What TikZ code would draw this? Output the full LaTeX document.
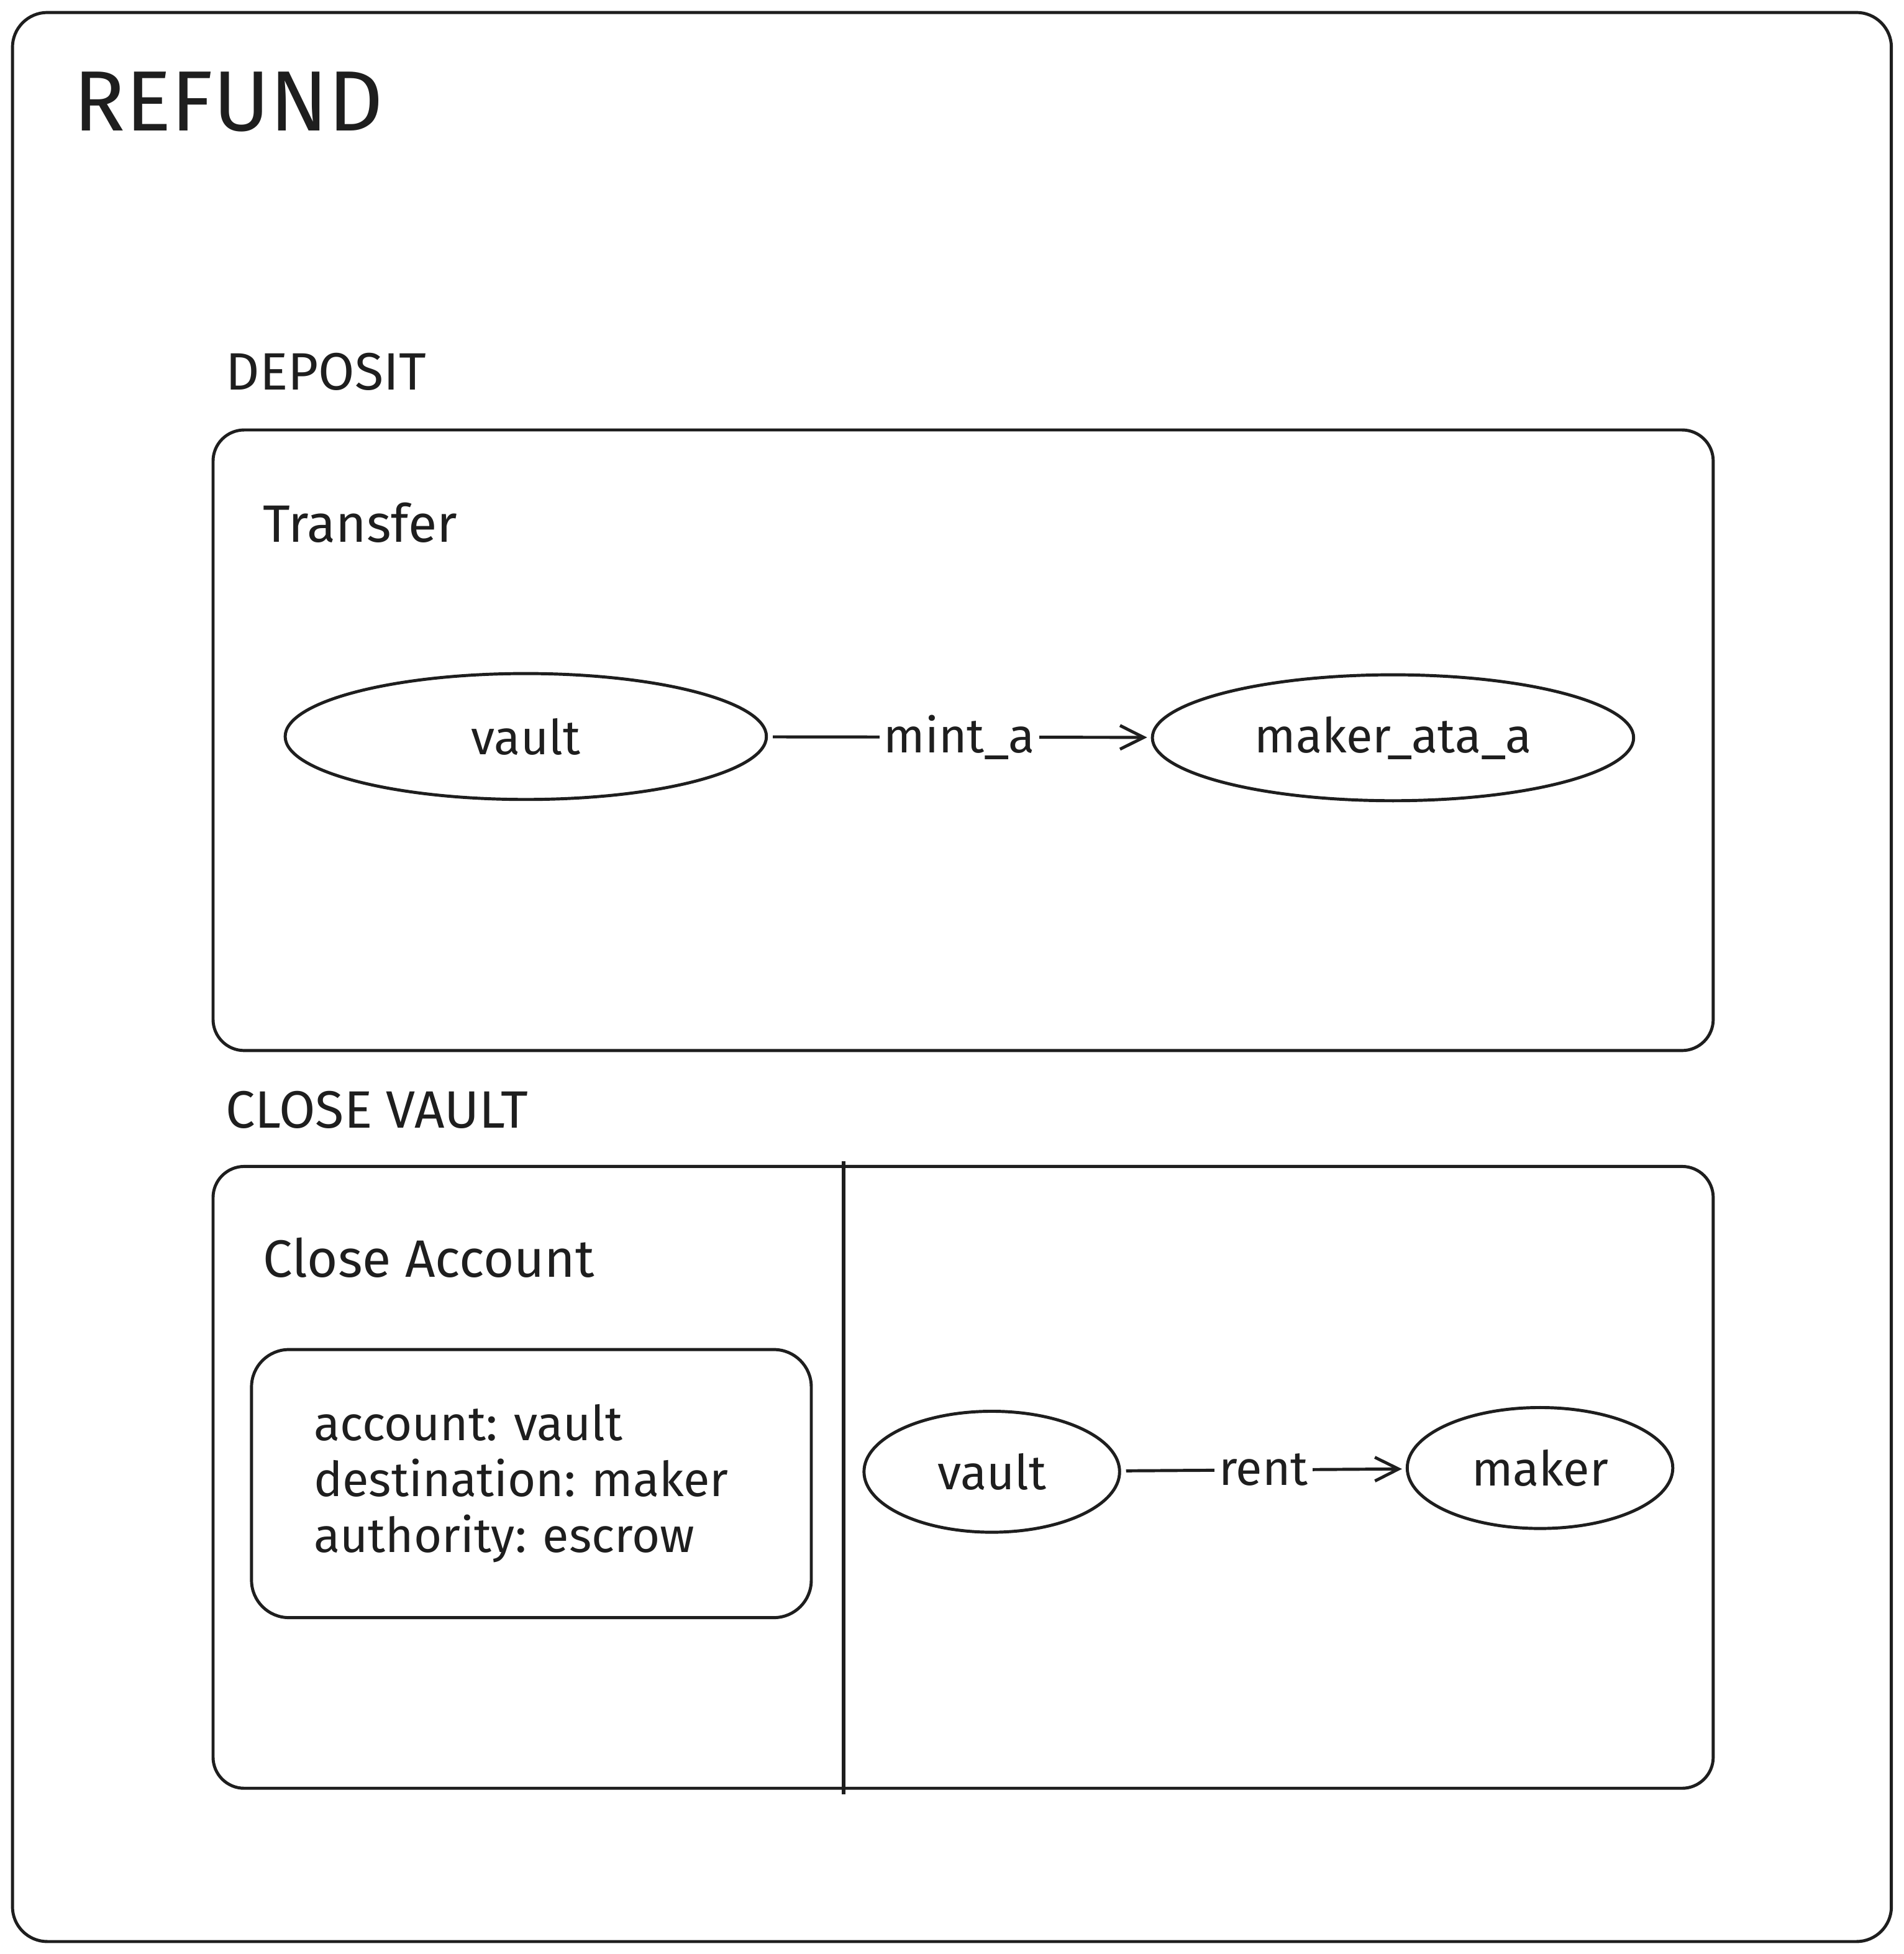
\documentclass[tikz,border=0pt]{standalone}
\usepackage{fontspec}
\setmainfont{Fira Sans}
\usepackage{tikz}
\usetikzlibrary{arrows.meta, positioning, shapes}
\definecolor{ink}{HTML}{1E1E1E}
\frenchspacing

\begin{document}
\begin{tikzpicture}[x=0.01cm, y=-0.01cm, line width=0.7pt,
	panel/.style={draw=ink, rounded corners=0.25cm},
	acct/.style={draw=ink, ellipse, inner sep=0pt, text=ink, font=\fontsize{11}{13}\selectfont},
	flow/.style={draw=ink, shorten <=0.04cm, shorten >=0.03cm, -{Straight Barb[length=0.19cm, width=0.19cm]}},
	flowlabel/.style={fill=white, inner xsep=1pt, inner ysep=0pt, text=ink, font=\fontsize{11}{13}\selectfont},
	heading/.style={anchor=base west, inner sep=0pt, text=ink, font=\fontsize{12}{15}\selectfont},
]

\useasboundingbox (0,0) rectangle (1528,1568);

\draw[panel, rounded corners=0.28cm] (10,10) rectangle (1518,1558); % outer frame
\node[heading, font=\fontsize{19.5}{23}\selectfont] (refund) at (58,105) {REFUND};

% deposit
\node[heading] (deposit) at (180,313) {DEPOSIT};
\draw[panel] (171,345) rectangle (1375,843);
\node[heading] (transfer) at (210,435) {Transfer};

\node[acct, minimum width=3.86cm, minimum height=1.01cm] (vaulta) at (422,591) {vault};
\node[acct, minimum width=3.86cm, minimum height=1.01cm] (makerata) at (1118,592) {maker\_ata\_a};
\draw[flow] (vaulta) -- node[flowlabel] {mint\_a} (makerata);

% close vault
\node[heading] (closevault) at (180,905) {CLOSE VAULT};
\draw[panel] (171,936) rectangle (1375,1435);
\draw[ink, line width=0.9pt] (677,932) -- (677,1440); % divider
\node[heading] (closeacct) at (210,1025) {Close Account};

\node[panel, rounded corners=0.3cm, align=left, text width=3.49cm, inner xsep=0.5cm, minimum height=2.15cm,
	text=ink, font=\fontsize{11}{12.8}\selectfont] (params) at (426.5,1190.5)
	{account: vault\\destination: maker\\authority: escrow};

\node[acct, minimum width=2.05cm, minimum height=0.97cm] (vaultb) at (796,1181) {vault};
\node[acct, minimum width=2.13cm, minimum height=0.97cm] (maker) at (1236,1178) {maker};
\draw[flow] (vaultb) -- node[flowlabel] {rent} (maker);

\end{tikzpicture}
\end{document}
